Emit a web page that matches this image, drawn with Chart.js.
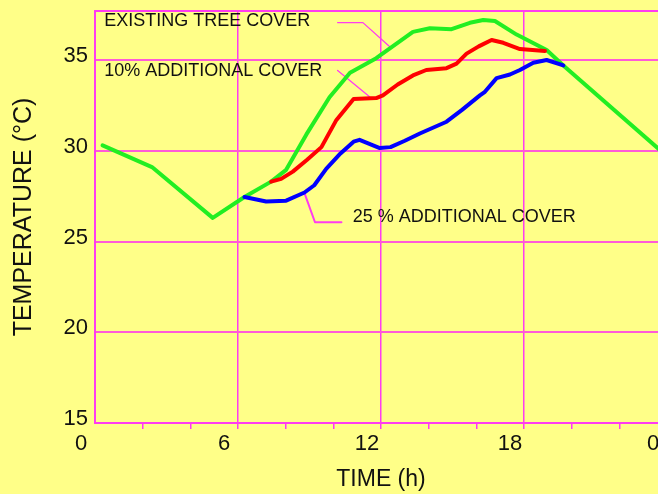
<!DOCTYPE html>
<html>
<head>
<meta charset="utf-8">
<script src="https://cdn.jsdelivr.net/npm/chart.js@4/dist/chart.umd.min.js"></script>
<style>
  html, body { margin: 0; padding: 0; background: #FFFF88; overflow: hidden; width: 658px; height: 494px; }
  #wrap { position: absolute; left: 0; top: 0; width: 680px; height: 494px; }
</style>
</head>
<body>
<div id="wrap"><canvas id="c" width="680" height="494"></canvas></div>
<script>
// ---- Data (time in hours, temperature in °C) ----
const xTickLabels = { 0: '0', 6: '6', 12: '12', 18: '18', 24: '0' };
const yTickValues = [15, 20, 25, 30, 35];

const existingHours = [0.32, 2.39, 4.94, 6.27, 7.39, 8.02, 8.87, 9.84, 10.7, 11.8, 13.34, 14.05, 14.96, 15.73, 16.29, 16.78, 17.69, 18.95, 19.65, 24];
const existingTemp  = [30.3, 29.1, 26.3, 27.45, 28.3, 28.95, 30.9, 32.95, 34.3, 35.1, 36.55, 36.75, 36.7, 37.05, 37.2, 37.15, 36.4, 35.55, 34.7, 29.7];

const add10Hours = [7.39, 7.81, 8.3, 8.9, 9.5, 10.13, 10.85, 11.8, 12.08, 12.7, 13.34, 13.9, 14.75, 15.17, 15.59, 16.1, 16.64, 17.13, 17.83, 18.88];
const add10Temp  = [28.3, 28.45, 28.85, 29.5, 30.2, 31.7, 32.85, 32.9, 33.05, 33.65, 34.15, 34.45, 34.55, 34.8, 35.35, 35.75, 36.1, 35.95, 35.6, 35.5];

const add25Hours = [6.27, 7.18, 8.02, 8.79, 9.2, 9.7, 10.3, 10.85, 11.1, 11.95, 12.4, 13.0, 13.63, 14.75, 15.4, 16.15, 16.36, 16.85, 17.41, 17.83, 18.39, 18.95, 19.65];
const add25Temp  = [27.45, 27.2, 27.25, 27.7, 28.1, 29.0, 29.85, 30.5, 30.6, 30.15, 30.2, 30.55, 30.95, 31.6, 32.25, 33.05, 33.25, 34.0, 34.2, 34.45, 34.85, 35.0, 34.7];

// Annotation labels and their leader lines (data coordinates)
const labelTexts  = ['EXISTING TREE COVER', '10% ADDITIONAL COVER', '25 % ADDITIONAL COVER'];
const labelHours  = [0.39, 0.39, 10.81];
const labelTemps  = [37.15, 34.39, 26.37];
const leaderExistingHours = [10.18, 11.24, 12.37];
const leaderExistingTemps = [37.06, 37.06, 35.73];
const leader10Hours = [10.18, 11.52];
const leader10Temps = [34.42, 32.97];
const leader25Hours = [10.34, 9.23, 8.79];
const leader25Temps = [26.06, 26.06, 27.67];

const zip = (xs, ys) => xs.map((x, i) => ({ x: x, y: ys[i] }));

const MAGENTA = '#FF3CF0';
const PINK = '#FF5AD8';
const FONT = '"Liberation Sans", Arial, sans-serif';

const labelPlugin = {
  id: 'seriesLabels',
  afterDatasetsDraw(chart) {
    const ctx = chart.ctx;
    const xs = chart.scales.x, ys = chart.scales.y;
    ctx.save();
    ctx.font = '18px ' + FONT;
    ctx.fillStyle = '#111111';
    ctx.textAlign = 'left';
    ctx.textBaseline = 'middle';
    labelTexts.forEach((t, i) => {
      ctx.fillText(t, xs.getPixelForValue(labelHours[i]), ys.getPixelForValue(labelTemps[i]));
    });
    ctx.restore();
  }
};

const lineDs = (data, color, width) => ({
  data: data, borderColor: color, borderWidth: width, pointRadius: 0,
  fill: false, tension: 0, borderJoinStyle: 'round', borderCapStyle: 'round'
});

const noPad = s => { s.paddingTop = 0; s.paddingBottom = 0; s.paddingLeft = 0; s.paddingRight = 0; };

new Chart(document.getElementById('c'), {
  type: 'line',
  data: {
    datasets: [
      lineDs(zip(add25Hours, add25Temp), '#0000FF', 4),
      lineDs(zip(add10Hours, add10Temp), '#FF0000', 4),
      lineDs(zip(existingHours, existingTemp), '#22EE22', 4),
      lineDs(zip(leaderExistingHours, leaderExistingTemps), MAGENTA, 1.3),
      lineDs(zip(leader10Hours, leader10Temps), MAGENTA, 1.3),
      lineDs(zip(leader25Hours, leader25Temps), MAGENTA, 2)
    ]
  },
  plugins: [labelPlugin],
  options: {
    responsive: false,
    animation: false,
    devicePixelRatio: 1,
    layout: { padding: { left: 0, top: 11, right: 13, bottom: 0 } },
    plugins: { legend: { display: false }, tooltip: { enabled: false } },
    scales: {
      x: {
        type: 'linear', position: 'bottom', min: 0, max: 24,
        afterFit: s => { s.height = 71; noPad(s); },
        ticks: {
          stepSize: 2, autoSkip: false, maxRotation: 0, padding: 2, labelOffset: -14,
          color: '#111111', font: { family: FONT, size: 22 },
          callback: v => (xTickLabels[v] !== undefined ? xTickLabels[v] : '')
        },
        grid: {
          color: c => ([6, 12, 18].includes(c.tick && c.tick.value) ? MAGENTA : 'rgba(0,0,0,0)'),
          tickColor: c => ((c.tick && (c.tick.value === 0 || c.tick.value === 24)) ? 'rgba(0,0,0,0)' : MAGENTA),
          lineWidth: 1.5, tickLength: 6, drawTicks: true
        },
        border: { display: true, color: MAGENTA, width: 2 },
        title: { display: true, text: 'TIME (h)', color: '#111111', font: { family: FONT, size: 23 }, padding: { top: 0, bottom: 1 } }
      },
      xTop: {
        type: 'linear', position: 'top', min: 0, max: 24,
        afterFit: s => { s.height = 0; noPad(s); },
        ticks: { display: false },
        grid: { display: false, drawTicks: false },
        border: { display: true, color: MAGENTA, width: 2 }
      },
      y: {
        type: 'linear', min: 15, max: 37.7,
        afterFit: s => { s.width = 95; noPad(s); },
        ticks: {
          stepSize: 5, includeBounds: false, padding: 7, labelOffset: -4,
          color: '#111111', font: { family: FONT, size: 22 },
          callback: v => (yTickValues.includes(v) ? String(v) : '')
        },
        grid: { color: PINK, lineWidth: 2, drawTicks: false },
        border: { display: true, color: MAGENTA, width: 2 },
        title: { display: true, text: 'TEMPERATURE (°C)', color: '#111111', font: { family: FONT, size: 25 }, padding: { top: 9, bottom: 0 } }
      }
    }
  }
});
</script>
</body>
</html>
